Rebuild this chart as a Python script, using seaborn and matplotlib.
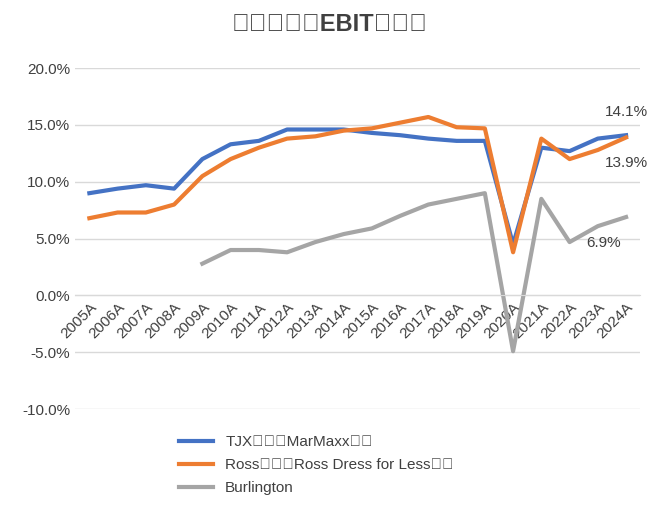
import matplotlib
matplotlib.use("Agg")
import matplotlib.pyplot as plt
from matplotlib import font_manager as fm
import seaborn as sns
import numpy as np
import pandas as pd

cjk = None
for f in fm.fontManager.ttflist:
    if "CJK" in f.name and "SC" in f.name:
        cjk = f.name
        break
if cjk is None:
    for f in fm.fontManager.ttflist:
        if "CJK" in f.name:
            cjk = f.name
            break
fams = ["Liberation Sans"] + ([cjk] if cjk else []) + ["DejaVu Sans"]
plt.rcParams["font.family"] = "sans-serif"
plt.rcParams["font.sans-serif"] = fams

years = [f"{y}A" for y in range(2005, 2025)]
tjx = [9.0, 9.4, 9.7, 9.4, 12.0, 13.3, 13.6, 14.6, 14.6, 14.6, 14.3, 14.1, 13.8, 13.6, 13.6, 4.5, 13.0, 12.7, 13.8, 14.1]
ross = [6.8, 7.3, 7.3, 8.0, 10.5, 12.0, 13.0, 13.8, 14.0, 14.5, 14.7, 15.2, 15.7, 14.8, 14.7, 3.8, 13.8, 12.0, 12.8, 13.9]
burl = [np.nan]*4 + [2.8, 4.0, 4.0, 3.8, 4.7, 5.4, 5.9, 7.0, 8.0, 8.5, 9.0, -4.9, 8.5, 4.7, 6.1, 6.9]
names = ["TJX旗下的MarMaxx品牌", "Ross旗下的Ross Dress for Less品牌", "Burlington"]
colors = ["#4472C4", "#ED7D31", "#A5A5A5"]

df = pd.DataFrame({"x": list(range(20))*3,
                   "v": tjx + ross + burl,
                   "s": [names[0]]*20 + [names[1]]*20 + [names[2]]*20})

fig = plt.figure(figsize=(6.6, 5.16), dpi=100)
ax = fig.add_axes([0.114, 0.207, 0.856, 0.661])
sns.lineplot(data=df, x="x", y="v", hue="s", palette=colors, linewidth=3, ax=ax, legend=True)
ax.set_xlim(-0.5, 19.5)
ax.set_ylim(-10, 20)
ax.set_yticks(np.arange(-10, 21, 5))
ax.set_yticklabels([f"{v:.1f}%" for v in np.arange(-10, 21, 5)], fontsize=11, color="#404040")
ax.yaxis.grid(True, color="#D9D9D9", linewidth=1)
ax.set_axisbelow(True)
for s in ["top", "right", "left"]:
    ax.spines[s].set_visible(False)
ax.spines["bottom"].set_position(("data", 0))
ax.spines["bottom"].set_color("#D9D9D9")
ax.set_xticks(range(20))
ax.set_xticklabels(years, rotation=45, ha="right", rotation_mode="anchor", fontsize=11, color="#404040")
ax.tick_params(length=0)
ax.set_xlabel("")
ax.set_ylabel("")
ax.text(19, 15.8, "14.1%", ha="center", fontsize=11, color="#404040")
ax.text(19, 11.3, "13.9%", ha="center", fontsize=11, color="#404040")
ax.text(18.2, 4.3, "6.9%", ha="center", fontsize=11, color="#404040")
leg = ax.legend(loc="upper left", bbox_to_anchor=(0.16, -0.035), frameon=False, fontsize=11,
                handlelength=2.2, labelspacing=0.6)
for t in leg.get_texts():
    t.set_color("#404040")
fig.suptitle("核心品牌的EBIT利润率", y=0.975, fontsize=17, fontweight="bold", color="#404040")
fig.savefig("out.png")
